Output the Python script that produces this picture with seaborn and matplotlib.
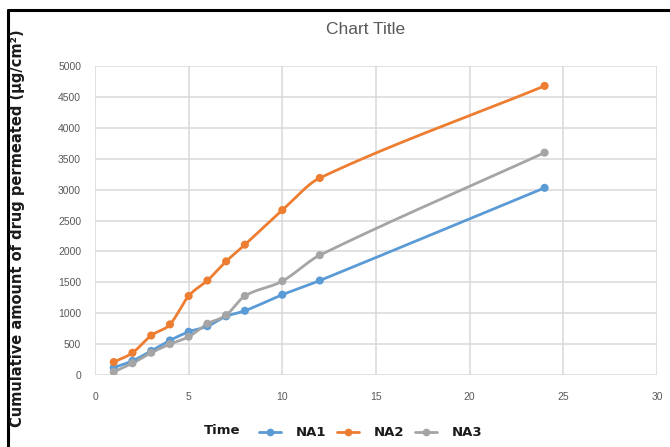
import numpy as np
import pandas as pd
import matplotlib
matplotlib.use("Agg")
import matplotlib.pyplot as plt
from matplotlib.lines import Line2D
import seaborn as sns

# Sampling times (h) and cumulative amount permeated (µg/cm²)
time = [1, 2, 3, 4, 5, 6, 7, 8, 10, 12, 24]
na1 = [120, 230, 390, 560, 700, 790, 950, 1040, 1300, 1530, 3030]
na2 = [210, 360, 640, 820, 1280, 1530, 1840, 2110, 2670, 3190, 4680]
na3 = [50, 190, 360, 500, 620, 830, 970, 1280, 1520, 1940, 3600]

series_names = ["NA1", "NA2", "NA3"]
series_values = [na1, na2, na3]
colors = {"NA1": "#5B9BD5", "NA2": "#ED7D31", "NA3": "#A5A5A5"}

x_ticks = [0, 5, 10, 15, 20, 25, 30]
y_ticks = [0, 500, 1000, 1500, 2000, 2500, 3000, 3500, 4000, 4500, 5000]


def smooth_curve(x, y, steps=30):
    """Cubic Hermite curve through the points (smoothed line chart)."""
    x = np.asarray(x, float)
    y = np.asarray(y, float)
    n = len(x)
    # tangents dy/dx from neighbouring points
    m = np.empty(n)
    m[0] = (y[1] - y[0]) / (x[1] - x[0])
    m[-1] = (y[-1] - y[-2]) / (x[-1] - x[-2])
    m[1:-1] = (y[2:] - y[:-2]) / (x[2:] - x[:-2])
    xs, ys = [], []
    t = np.linspace(0, 1, steps, endpoint=False)
    for i in range(n - 1):
        h = x[i + 1] - x[i]
        h00 = 2 * t ** 3 - 3 * t ** 2 + 1
        h10 = t ** 3 - 2 * t ** 2 + t
        h01 = -2 * t ** 3 + 3 * t ** 2
        h11 = t ** 3 - t ** 2
        xs.append(x[i] + t * h)
        ys.append(h00 * y[i] + h10 * h * m[i] + h01 * y[i + 1] + h11 * h * m[i + 1])
    xs.append([x[-1]])
    ys.append([y[-1]])
    return np.concatenate(xs), np.concatenate(ys)


points = pd.concat(
    [pd.DataFrame({"Time": time, "Amount": vals, "Formulation": name})
     for name, vals in zip(series_names, series_values)],
    ignore_index=True,
)
curves = []
for name, vals in zip(series_names, series_values):
    sx, sy = smooth_curve(time, vals)
    curves.append(pd.DataFrame({"Time": sx, "Amount": sy, "Formulation": name}))
curves = pd.concat(curves, ignore_index=True)

sns.set_theme(style="white")
plt.rcParams["font.family"] = ["Liberation Sans", "DejaVu Sans"]

fig = plt.figure(figsize=(6.7, 4.47), dpi=100)
ax = fig.add_axes([0.1418, 0.161, 0.8388, 0.691])

sns.lineplot(data=curves, x="Time", y="Amount", hue="Formulation",
             palette=colors, linewidth=2.0, sort=False, estimator=None,
             legend=False, ax=ax)
sns.scatterplot(data=points, x="Time", y="Amount", hue="Formulation",
                palette=colors, marker="o", s=34, edgecolor="none",
                legend=False, ax=ax, zorder=3)

ax.set_xlim(0, 30)
ax.set_ylim(0, 5000)
ax.set_xticks(x_ticks)
ax.set_yticks(y_ticks)
ax.grid(True, color="#D9D9D9", linewidth=1.1)
ax.set_axisbelow(True)
for side in ["top", "right", "left", "bottom"]:
    ax.spines[side].set_visible(False)
ax.tick_params(axis="both", length=0, labelsize=7.5, labelcolor="#595959")
ax.tick_params(axis="x", pad=12)
ax.tick_params(axis="y", pad=10)

ax.set_xlabel("")
ax.set_ylabel("")
fig.text(0.026, 0.49, "Cumulative amount of drug permeated (μg/cm²)",
         rotation=90, ha="center", va="center", fontsize=10.5,
         fontweight="bold", color="#1a1a1a", family=["DejaVu Sans"])
fig.text(0.331, 0.038, "Time", ha="center", va="center", fontsize=9.5,
         fontweight="bold", color="#1a1a1a", family=["DejaVu Sans"])

fig.text(0.546, 0.935, "Chart Title", ha="center", va="center",
         fontsize=12.5, color="#595959")

handles = [Line2D([0], [0], color=colors[n], linewidth=2, marker="o",
                  markersize=4.5) for n in series_names]
leg = fig.legend(handles, series_names, loc="center", ncol=3,
                 bbox_to_anchor=(0.553, 0.032), frameon=False,
                 handlelength=1.7, columnspacing=0.8, handletextpad=1.1,
                 prop={"weight": "bold", "size": 9.5, "family": "DejaVu Sans"})
for txt in leg.get_texts():
    txt.set_color("#1a1a1a")

# Black frame along the left and top edges
fig.add_artist(Line2D([0.012, 0.012], [0.0, 0.978], color="black",
                      linewidth=2.2, transform=fig.transFigure))
fig.add_artist(Line2D([0.012, 1.0], [0.978, 0.978], color="black",
                      linewidth=2.2, transform=fig.transFigure))

fig.savefig("out.png", dpi=100)
